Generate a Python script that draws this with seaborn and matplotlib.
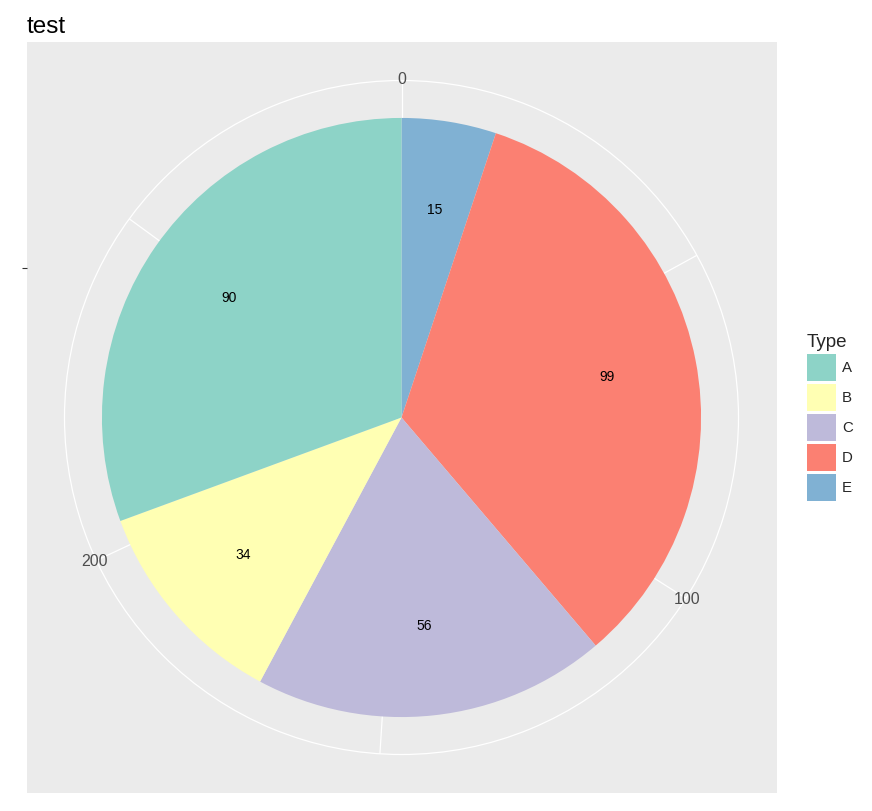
import numpy as np
import matplotlib
matplotlib.use("Agg")
import matplotlib.pyplot as plt
from matplotlib.patches import Patch
import seaborn as sns

# ---- data ----
categories = ["A", "B", "C", "D", "E"]
values = [90, 34, 56, 99, 15]
stack_order = ["E", "D", "C", "B", "A"]   # clockwise from 12 o'clock
theta_breaks = [0, 50, 100, 150, 200, 250]
theta_labels = ["0", "", "100", "", "200", ""]
title = "test"
legend_title = "Type"

sns.set_theme(style="white")
plt.rcParams["font.family"] = ["Liberation Sans", "DejaVu Sans"]

palette = dict(zip(categories, sns.color_palette("Set3", len(categories))))
val = dict(zip(categories, values))
total = float(sum(values))

W, H = 872, 811
fig = plt.figure(figsize=(W / 100, H / 100), dpi=100)
fig.patch.set_facecolor("white")

# geometry (pixels)
cx, cy = 401.5, 417.5
ring_px = 337.0
unit = ring_px / 0.45          # pixels per radial unit

# panel background
pl, pr, pt, pb = 27, 777, 42, 793
bg = fig.add_axes([pl / W, 1 - pb / H, (pr - pl) / W, (pb - pt) / H])
bg.set_facecolor("#EBEBEB")
for s in bg.spines.values():
    s.set_visible(False)
bg.set_xlim(-(cx - pl) / unit, (pr - cx) / unit)
bg.set_ylim(-(pb - cy) / unit, (cy - pt) / unit)
bg.set_xticks([])
bg.set_yticks([0.2])
bg.set_yticklabels([""])
bg.tick_params(axis="y", length=3.6, width=0.8, color="#333333", left=True)
bg.grid(False)

# polar axes
ax = fig.add_axes([(cx - ring_px) / W, 1 - (cy + ring_px) / H,
                   2 * ring_px / W, 2 * ring_px / H], projection="polar")
ax.set_facecolor("none")
ax.patch.set_alpha(0)
ax.set_theta_zero_location("N")
ax.set_theta_direction(-1)
ax.set_ylim(0, 0.45)
ax.set_yticks([])
ax.set_xticks([2 * np.pi * b / total for b in theta_breaks])
ax.set_xticklabels([])
ax.tick_params(axis="x", length=0)
ax.grid(True, axis="x", color="white", linewidth=0.9)
ax.set_axisbelow(True)
ax.spines["polar"].set_color("white")
ax.spines["polar"].set_linewidth(0.9)

# slices
starts = np.cumsum([0] + [val[c] for c in stack_order[:-1]])
for c, s0 in zip(stack_order, starts):
    w = 2 * np.pi * val[c] / total
    th = 2 * np.pi * s0 / total + w / 2
    ax.bar(th, 0.4, width=w, bottom=0, color=palette[c], linewidth=0,
           align="center", zorder=2)
    ax.text(th, 0.28, str(val[c]), ha="center", va="center",
            fontsize=10, color="black", zorder=3)

# theta axis labels
for b, lab in zip(theta_breaks, theta_labels):
    if lab:
        ax.text(2 * np.pi * b / total, 0.452, lab, ha="center", va="center",
                fontsize=11.5, color="#4D4D4D", clip_on=False, zorder=3)

# title
fig.text(27 / W, 1 - 33 / H, title, fontsize=17.5, color="black",
         ha="left", va="baseline")

# legend
handles = [Patch(facecolor=palette[c], edgecolor="none", label=c) for c in categories]
leg = fig.legend(handles=handles, title=legend_title, loc="upper left",
                 bbox_to_anchor=(807 / W, 1 - 334 / H),
                 bbox_transform=fig.transFigure, frameon=False, borderpad=0,
                 borderaxespad=0,
                 fontsize=10.8, title_fontsize=13.5, handlelength=1.93,
                 handleheight=2.39, labelspacing=0.2, handletextpad=0.4,
                 alignment="left")

fig.savefig("out.png", dpi=100)
